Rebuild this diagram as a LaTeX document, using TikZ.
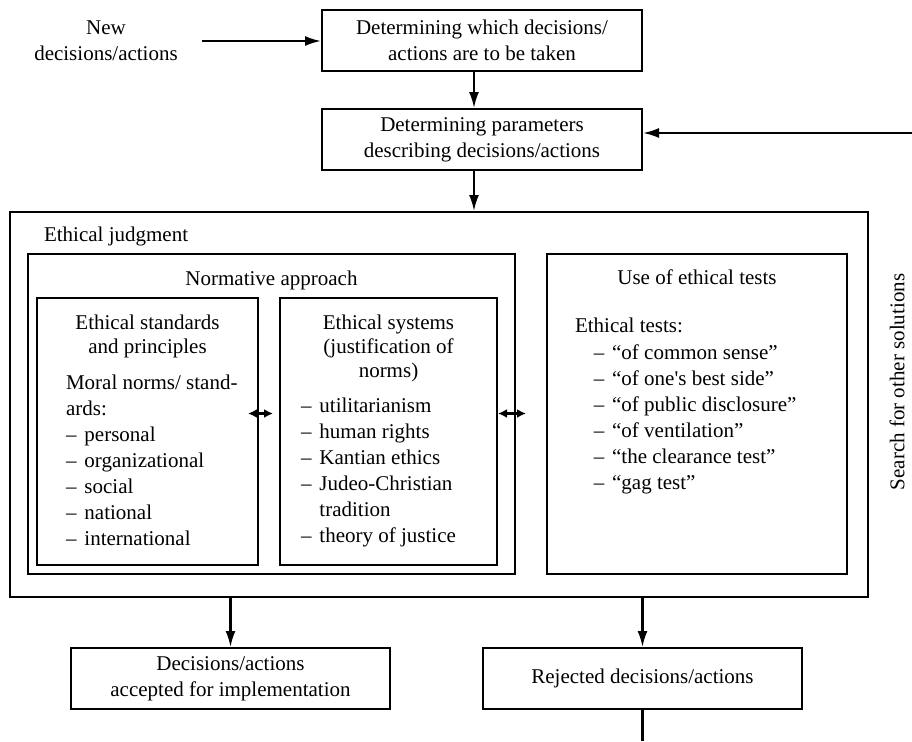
\documentclass[tikz,border=0pt]{standalone}
\usepackage{fontspec}
\setmainfont{Liberation Serif}
\usetikzlibrary{arrows.meta}
\newcommand\itm[1]{\makebox[9.2pt][l]{–}#1}

\begin{document}
\begin{tikzpicture}[x=0.5pt,y=-0.5pt,
  font=\fontsize{10.5}{13}\selectfont,
  box/.style={draw,line width=1pt,align=center,inner sep=0pt,minimum width=160pt,minimum height=30.5pt},
  frame/.style={draw,line width=1pt,inner sep=0pt},
  arr/.style={line width=1.1pt,->,>={Latex[length=8pt,width=5pt]}},
  dbl/.style={line width=1.1pt,<->,>={Latex[length=4.5pt,width=4.5pt]}}]

\useasboundingbox (0,0) rectangle (912,741);

% decisions coming in
\node[align=center] (newtxt) at (106,41) {New\\decisions/actions};
\node[box] (which) at (482,40.5) {Determining which decisions/\\actions are to be taken};
\node[box] (params) at (482,139.5) {Determining parameters\\describing decisions/actions};

% ethical judgment
\node[frame,minimum width=429pt,minimum height=192.5pt] (judg) at (439,404.5) {};
\node[anchor=base west] (judgtxt) at (37,241) {Ethical judgment};
\node[frame,minimum width=243.5pt,minimum height=160pt] (norm) at (271.5,414) {};
\node[anchor=base] (normtxt) at (271.5,285) {Normative approach};
\node[frame,minimum width=110.5pt,minimum height=133.5pt] (std) at (147.5,431.5) {};
\node[frame,minimum width=108.5pt,minimum height=133.5pt] (sys) at (388.5,431.5) {};
\node[frame,minimum width=150pt,minimum height=160pt] (tests) at (697,414) {};

\foreach \t [count=\i from 0] in {Ethical standards, and principles}
  \node[anchor=base] (stdh\i) at (147.5,{329+24*\i}) {\t};
\foreach \t [count=\i from 0] in {Moral norms/ stand-, ards:, \itm{personal}, \itm{organizational},
    \itm{social}, \itm{national}, \itm{international}}
  \node[anchor=base west] (stdl\i) at (59,{389+26*\i}) {\t};

\foreach \t [count=\i from 0] in {Ethical systems, {(justification of}, {norms)}}
  \node[anchor=base] (sysh\i) at (388.5,{329+24*\i}) {\t};
\foreach \t [count=\i from 0] in {\itm{utilitarianism}, \itm{human rights}, \itm{Kantian ethics},
    \itm{Judeo-Christian}, \makebox[9.2pt]{}tradition, \itm{theory of justice}}
  \node[anchor=base west] (sysl\i) at (294,{412+26*\i}) {\t};

\node[anchor=base] (teststxt) at (697,284) {Use of ethical tests};
\node[anchor=base west] (testsh) at (568,332) {Ethical tests:};
\foreach \t [count=\i from 0] in {\itm{“of common sense”}, \itm{“of one\textquotesingle s best side”},
    \itm{“of public disclosure”}, \itm{“of ventilation”}, \itm{“the clearance test”}, \itm{“gag test”}}
  \node[anchor=base west] (testl\i) at (586.7,{359+26*\i}) {\t};

\node[rotate=90] (srch) at (897,382) {Search for other solutions};

% outcomes
\node[box,minimum width=159.5pt] (acc) at (230.5,678.5) {Decisions/actions\\accepted for implementation};
\node[box,minimum width=159.5pt] (rej) at (642.5,678.5) {Rejected decisions/actions};

\coordinate (pdown) at ([xshift=-4pt]params.south);
\coordinate (fbR) at (912,133);
\coordinate (fbB) at (642.5,741);

\draw[arr,shorten <=8.5pt] (newtxt.east) -- (newtxt.east -| which.west);
\draw[arr] ([xshift=-4pt]which.south) -- ([xshift=-4pt]params.north);
\draw[arr] (pdown) -- (pdown |- judg.north);
\draw[arr] (fbR) -- (fbR -| params.east);

\draw[dbl] ([xshift=-5.5pt,yshift=9pt]std.east) -- ++(12.5pt,0);
\draw[dbl] ([yshift=9pt]sys.east) -- ++(14pt,0);

\draw[arr] (acc.north |- judg.south) -- (acc.north);
\draw[arr] (rej.north |- judg.south) -- (rej.north);
\draw[line width=1.1pt] (rej.south) -- (fbB);

\end{tikzpicture}
\end{document}
